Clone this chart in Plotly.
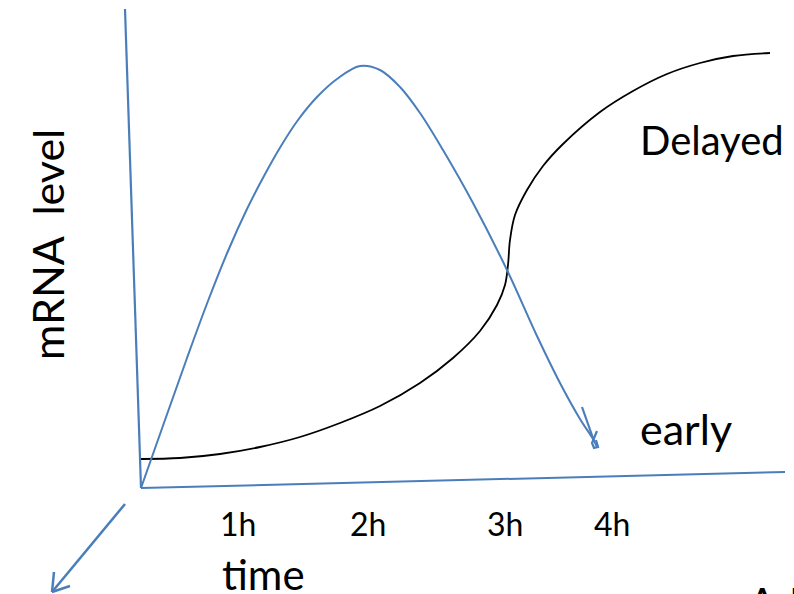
import plotly.graph_objects as go

# Picture-space coordinates (x to the right, y downward)
early_x = [141, 165, 187, 208, 228, 247, 264, 281, 298, 317, 337, 360, 380, 400, 420, 443, 473, 507, 537, 560, 580, 593, 597]
early_y = [488, 420, 358, 301, 251, 209, 176, 146, 120, 97, 79, 66, 70, 87, 113, 150, 203, 270, 336, 383, 419, 439, 447]

delayed_x = [141, 180, 220, 260, 300, 340, 380, 420, 453, 480, 497, 505, 508, 510, 515, 527, 543, 563, 600, 633, 667, 700, 733, 770]
delayed_y = [459, 458, 454, 447, 437, 423, 406, 383, 358, 331, 305, 285, 265, 240, 215, 190, 166, 144, 112, 91, 74, 63, 56, 53]

arrowhead_x = [582, 594, None, 597, 592, 594, 598, 596]
arrowhead_y = [407, 441, None, 431, 443, 448, 447, 440]

yaxis_x = [125, 141]
yaxis_y = [9, 488]
xaxis_x = [141, 785]
xaxis_y = [488, 472]
zaxis_x = [125, 52, None, 52, 54, None, 52, 70]
zaxis_y = [504, 592, None, 592, 572, None, 592, 586]

tick_labels = ["1h", "2h", "3h", "4h"]
tick_x = [238, 368, 505, 612]

BLUE = "#4a7ebb"
FONT = "Lato"

fig = go.Figure()
fig.add_trace(go.Scatter(x=yaxis_x, y=yaxis_y, mode="lines", line=dict(color=BLUE, width=2.2), hoverinfo="skip"))
fig.add_trace(go.Scatter(x=xaxis_x, y=xaxis_y, mode="lines", line=dict(color=BLUE, width=2), hoverinfo="skip"))
fig.add_trace(go.Scatter(x=zaxis_x, y=zaxis_y, mode="lines", line=dict(color=BLUE, width=2.5), hoverinfo="skip"))
fig.add_trace(go.Scatter(x=delayed_x, y=delayed_y, mode="lines", line=dict(color="black", width=1.8, shape="spline", smoothing=1.0), hoverinfo="skip"))
fig.add_trace(go.Scatter(x=early_x, y=early_y, mode="lines", line=dict(color=BLUE, width=2, shape="spline", smoothing=1.0), hoverinfo="skip"))
fig.add_trace(go.Scatter(x=arrowhead_x, y=arrowhead_y, mode="lines", line=dict(color=BLUE, width=2.2), hoverinfo="skip"))

ann = []
for t, x in zip(tick_labels, tick_x):
    ann.append(dict(x=x, y=523, text=t, showarrow=False, font=dict(family=FONT, size=32, color="black"),
                    xanchor="center", yanchor="middle"))
ann.append(dict(x=220, y=574, text="time", showarrow=False, font=dict(family=FONT, size=42, color="black"),
                xanchor="left", yanchor="middle"))
ann.append(dict(x=638, y=140, text="Delayed", showarrow=False, font=dict(family=FONT, size=40, color="black"),
                xanchor="left", yanchor="middle"))
ann.append(dict(x=638, y=428, text="early", showarrow=False, font=dict(family=FONT, size=43, color="black"),
                xanchor="left", yanchor="middle"))
ann.append(dict(x=47, y=245, text="mRNA  level", showarrow=False, textangle=-90, font=dict(family=FONT, size=43, color="black"),
                xanchor="center", yanchor="middle"))
ann.append(dict(x=746, y=576, text="Ad", showarrow=False, font=dict(family=FONT, size=42, color="black"),
                xanchor="left", yanchor="top"))
for a in ann:
    a["xref"] = "x"
    a["yref"] = "y"

fig.update_layout(
    width=794, height=594,
    margin=dict(l=0, r=0, t=0, b=0),
    paper_bgcolor="white", plot_bgcolor="white",
    showlegend=False,
    xaxis=dict(range=[0, 794], visible=False, fixedrange=True),
    yaxis=dict(range=[594, 0], visible=False, fixedrange=True),
    annotations=ann,
)
fig.write_html("out.html", config={"displayModeBar": False},
               post_script="document.body.style.margin='0';document.body.style.overflow='hidden';")
